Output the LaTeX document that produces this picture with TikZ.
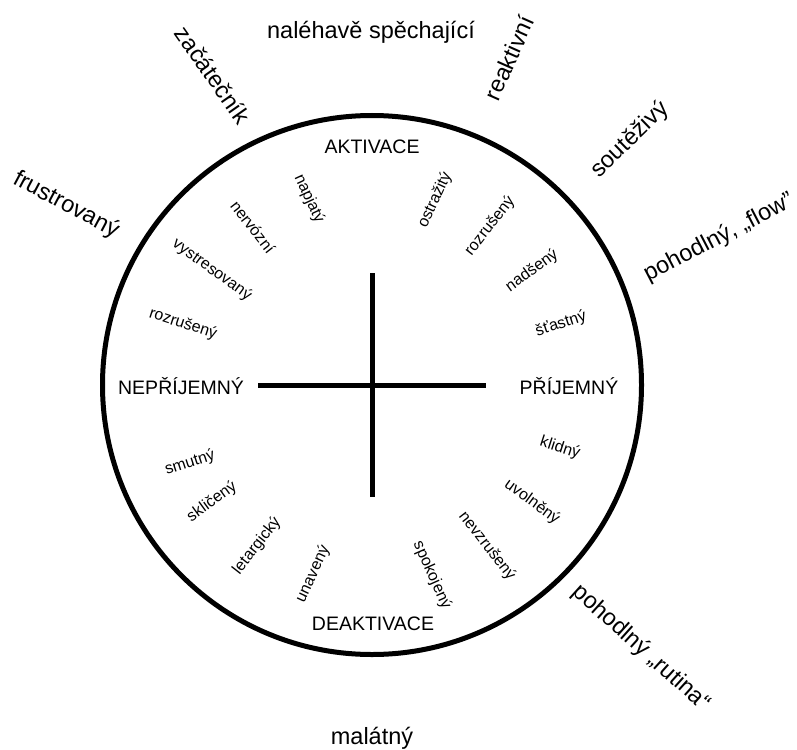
\documentclass[tikz,border=0pt]{standalone}
\usepackage{fontspec}
\setmainfont{Liberation Sans}
\begin{document}
\begin{tikzpicture}[x=1pt,y=-1pt,
  outer/.style={font=\fontsize{23.5}{28}\selectfont, inner sep=0pt},
  axislabel/.style={font=\fontsize{19.5}{23}\selectfont, inner sep=0pt},
  mood/.style={font=\fontsize{16}{19}\selectfont, inner sep=0pt},
  rim/.style={line width=5pt},
  bar/.style={line width=5pt}]
\path[use as bounding box] (0,0) rectangle (797,749);

% wheel and cross
\coordinate (c) at (372,385);
\draw[rim] (c) circle[radius=269.5pt];
\coordinate (vtop) at (372,273);
\coordinate (vbot) at (372,497);
\coordinate (hleft) at (258,385);
\coordinate (hright) at (486,385);
\draw[bar] (vtop) -- (vbot);
\draw[bar] (hleft) -- (hright);

% axis labels
\node[axislabel] (akt) at (372,147) {AKTIVACE};
\node[axislabel] (deakt) at (373,624) {DEAKTIVACE};
\node[axislabel] (neprij) at (181,386) {NEPŘÍJEMNÝ};
\node[axislabel] (prij) at (569,386) {PŘÍJEMNÝ};

% moods inside the wheel
\node[mood, rotate=-65] (napjaty) at (309,199) {napjatý};
\node[mood, rotate=-52] (nervozni) at (253,227) {nervózní};
\node[mood, rotate=-36] (vystres) at (212,270) {vystresovaný};
\node[mood, rotate=-18] (rozrusL) at (183,324) {rozrušený};
\node[mood, rotate=65] (ostraz) at (435,200) {ostražitý};
\node[mood, rotate=52] (rozrusR) at (490,226) {rozrušený};
\node[mood, rotate=36] (nadseny) at (532,271) {nadšený};
\node[mood, rotate=18] (stastny) at (561,324) {šťastný};
\node[mood, rotate=-18] (klidny) at (560,448) {klidný};
\node[mood, rotate=-36] (uvolneny) at (532,502) {uvolněný};
\node[mood, rotate=-52] (nevzrus) at (487,546) {nevzrušený};
\node[mood, rotate=-66] (spokoj) at (432,575) {spokojený};
\node[mood, rotate=18] (smutny) at (190,463) {smutný};
\node[mood, rotate=36] (sklic) at (212,502) {skličený};
\node[mood, rotate=52] (letarg) at (257,546) {letargický};
\node[mood, rotate=65] (unaveny) at (313,574) {unavený};

% states around the wheel
\node[outer] (nalehave) at (371,32) {naléhavě spěchající};
\node[outer, rotate=66] (reakt) at (509,58) {reaktivní};
\node[outer, rotate=44] (soutez) at (630,140) {soutěživý};
\node[outer, rotate=27.5] (flow) at (719,238) {pohodlný, „flow”};
\node[outer, rotate=-42] (rutina) at (641,648) {pohodlný „rutina“};
\node[outer] (malatny) at (372,738) {malátný};
\node[outer, rotate=-28] (frustr) at (66,205) {frustrovaný};
\node[outer, rotate=-55] (zacat) at (213,75) {začátečník};
\end{tikzpicture}
\end{document}
